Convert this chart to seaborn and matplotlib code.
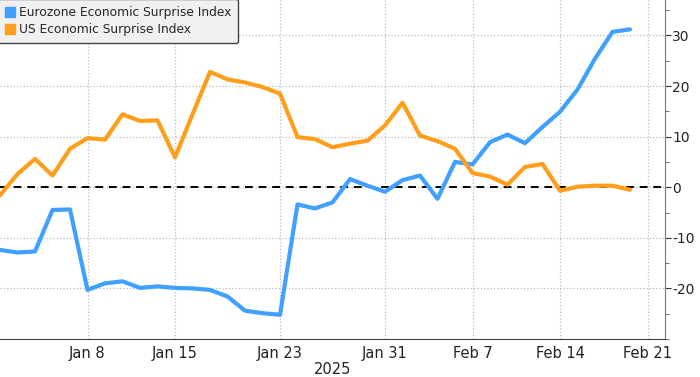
import pandas as pd
import seaborn as sns
import matplotlib.pyplot as plt
from matplotlib.ticker import MultipleLocator

# Business days shown on the axis (Jan 1 to Feb 24, 2025)
axis_days = pd.bdate_range('2025-01-01', '2025-02-24')
n_obs = 37  # data runs to Feb 20

eurozone = [-12.4, -12.9, -12.7, -4.5, -4.4, -20.3, -19.0, -18.6, -19.9, -19.6,
            -19.9, -20.0, -20.3, -21.6, -24.4, -24.9, -25.2, -3.4, -4.2, -3.0,
            1.6, 0.3, -0.9, 1.4, 2.3, -2.3, 5.0, 4.5, 8.9, 10.4,
            8.7, 11.9, 14.9, 19.3, 25.4, 30.7, 31.2]
us = [-1.6, 2.6, 5.6, 2.3, 7.6, 9.7, 9.4, 14.4, 13.1, 13.2,
      5.9, 14.4, 22.8, 21.3, 20.7, 19.8, 18.5, 9.9, 9.5, 7.9,
      8.6, 9.2, 12.2, 16.7, 10.2, 9.1, 7.6, 2.8, 2.1, 0.5,
      4.0, 4.6, -0.7, 0.1, 0.3, 0.3, -0.5]

tick_dates = ['2025-01-08', '2025-01-15', '2025-01-23', '2025-01-31',
              '2025-02-07', '2025-02-14', '2025-02-21']
tick_labels = ['Jan 8', 'Jan 15', 'Jan 23', 'Jan 31', 'Feb 7', 'Feb 14', 'Feb 21']

names = ['Eurozone Economic Surprise Index', 'US Economic Surprise Index']
colors = ['#40a0ff', '#ff9e1b']

df = pd.DataFrame({'pos': range(n_obs), names[0]: eurozone, names[1]: us})
df = df.melt(id_vars='pos', var_name='series', value_name='value')

sns.set_style('white')
plt.rcParams['font.family'] = ['DejaVu Sans']
plt.rcParams['axes.unicode_minus'] = False

fig = plt.figure(figsize=(7, 3.77), dpi=100)
ax = fig.add_axes([0, 0.1008, 0.95, 0.8992])

ax.axhline(0, color='black', lw=1.4, ls=(0, (4, 3)), zorder=1)
sns.lineplot(data=df, x='pos', y='value', hue='series', palette=colors,
             lw=3, ax=ax, legend=False, zorder=3)

ax.set_xlim(0, len(axis_days) - 1)
ax.set_ylim(-30, 37)

tick_pos = [axis_days.get_loc(pd.Timestamp(d)) for d in tick_dates]
ax.set_xticks(tick_pos)
ax.set_xticklabels(tick_labels, fontsize=10.5, color='#222222')
ax.xaxis.set_minor_locator(MultipleLocator(1))
ax.tick_params(axis='x', which='both', direction='out', length=3, color='#555555', pad=2)
ax.set_xlabel('2025', fontsize=10.5, color='#222222', labelpad=1)
ax.set_ylabel('')

ax.yaxis.tick_right()
ax.set_yticks([-20, -10, 0, 10, 20, 30])
ax.yaxis.set_minor_locator(MultipleLocator(5))
ax.tick_params(axis='y', which='major', direction='out', length=4, color='#333333',
               labelsize=10, labelcolor='#222222', pad=1)
ax.tick_params(axis='y', which='minor', direction='out', length=3, color='#555555')

ax.grid(True, which='major', color='#bbbbbb', ls=':', lw=0.9)
for side in ['left', 'top']:
    ax.spines[side].set_visible(False)
ax.spines['right'].set_color('#777777')
ax.spines['bottom'].set_color('#444444')

handles = [plt.Line2D([], [], marker='s', ls='', color=c, markersize=7) for c in colors]
leg = ax.legend(handles, names, loc='upper left', bbox_to_anchor=(-0.003, 1.003),
                fontsize=8.8, frameon=True, fancybox=True, handletextpad=0.3,
                borderpad=0.6, labelspacing=0.3, handlelength=0.8, borderaxespad=0)
leg.get_frame().set_facecolor('#f0f0f0')
leg.get_frame().set_edgecolor('#444444')
leg.get_frame().set_alpha(1)

fig.savefig('out.png', dpi=100)
